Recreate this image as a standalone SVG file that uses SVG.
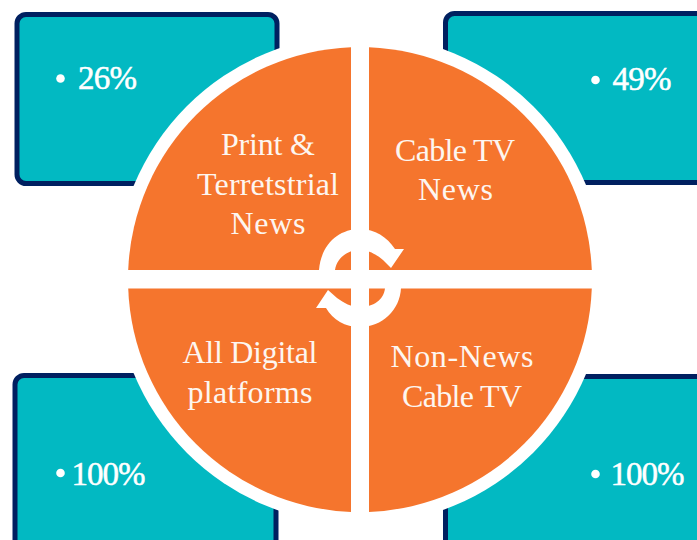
<svg xmlns="http://www.w3.org/2000/svg" width="697" height="540" viewBox="0 0 697 540">
<style>
.box{fill:#02B9C2;stroke:#002060;stroke-width:5}
.pie{fill:#F5752D}
.lbl{font-family:"Liberation Serif","Times New Roman",serif;font-size:32px;fill:#FDF6F0;text-anchor:middle}
.pct{font-family:"Liberation Serif","Times New Roman",serif;font-size:33px;fill:#fff;stroke:#fff;stroke-width:.5}
.dot{fill:#fff}
</style>
<rect width="697" height="540" fill="#fff"/>
<g id="box-print"><rect class="box" x="17" y="14.500" width="260" height="169" rx="9"/><circle class="dot" cx="60.500" cy="78.500" r="4.300"/><text class="pct" x="78" y="89" textLength="59" lengthAdjust="spacing">26%</text></g>
<g id="box-cable"><rect class="box" x="445.500" y="13.500" width="270" height="169" rx="9"/><circle class="dot" cx="595.500" cy="80" r="4.300"/><text class="pct" x="612.500" y="90" textLength="59" lengthAdjust="spacing">49%</text></g>
<g id="box-digital"><rect class="box" x="15" y="375.500" width="261" height="185" rx="9"/><circle class="dot" cx="60.500" cy="473" r="4.300"/><text class="pct" x="71.500" y="485" textLength="74" lengthAdjust="spacing">100%</text></g>
<g id="box-noncable"><rect class="box" x="445.500" y="376.500" width="270" height="185" rx="9"/><circle class="dot" cx="595.500" cy="474" r="4.300"/><text class="pct" x="610.500" y="485" textLength="74" lengthAdjust="spacing">100%</text></g>
<g id="ring"><circle cx="360" cy="279.500" r="245" fill="#fff"/></g>
<g id="segment-print"><path class="pie" d="M351 270V47.200A232.500 232.500 0 0 0 128.200 270Z"/><text class="lbl" x="268" y="155" textLength="94" lengthAdjust="spacing">Print &amp;</text><text class="lbl" x="268" y="195" textLength="142" lengthAdjust="spacing">Terretstrial</text><text class="lbl" x="268" y="234" textLength="75" lengthAdjust="spacing">News</text></g>
<g id="segment-cable"><path class="pie" d="M369 270V47.200A232.500 232.500 0 0 1 591.800 270Z"/><text class="lbl" x="455" y="161" textLength="120" lengthAdjust="spacing">Cable TV</text><text class="lbl" x="455.500" y="200" textLength="75" lengthAdjust="spacing">News</text></g>
<g id="segment-digital"><path class="pie" d="M351 288.500V512A232.500 232.500 0 0 1 128.200 288.500Z"/><text class="lbl" x="250" y="363" textLength="135" lengthAdjust="spacing">All Digital</text><text class="lbl" x="250" y="403" textLength="125" lengthAdjust="spacing">platforms</text></g>
<g id="segment-noncable"><path class="pie" d="M369 288.500V512A232.500 232.500 0 0 0 591.800 288.500Z"/><text class="lbl" x="462" y="367" textLength="143" lengthAdjust="spacing">Non-News</text><text class="lbl" x="462" y="407" textLength="120" lengthAdjust="spacing">Cable TV</text></g>
<g id="connectors" fill="#fff">
<path d="M319 270C321 245 338 229 360 229C375 229 387 237 395 249L404 249L391 268L383 260C377 255 369 250 360 250C347 250 337 258 335 270Z"/>
<path d="M401 288C400 310 382 327 360 327C345 327 333 320 326 308L316 308L328 290L337 298C344 303 351 307 360 307C373 307 384 300 385 288Z"/>
</g>
</svg>
